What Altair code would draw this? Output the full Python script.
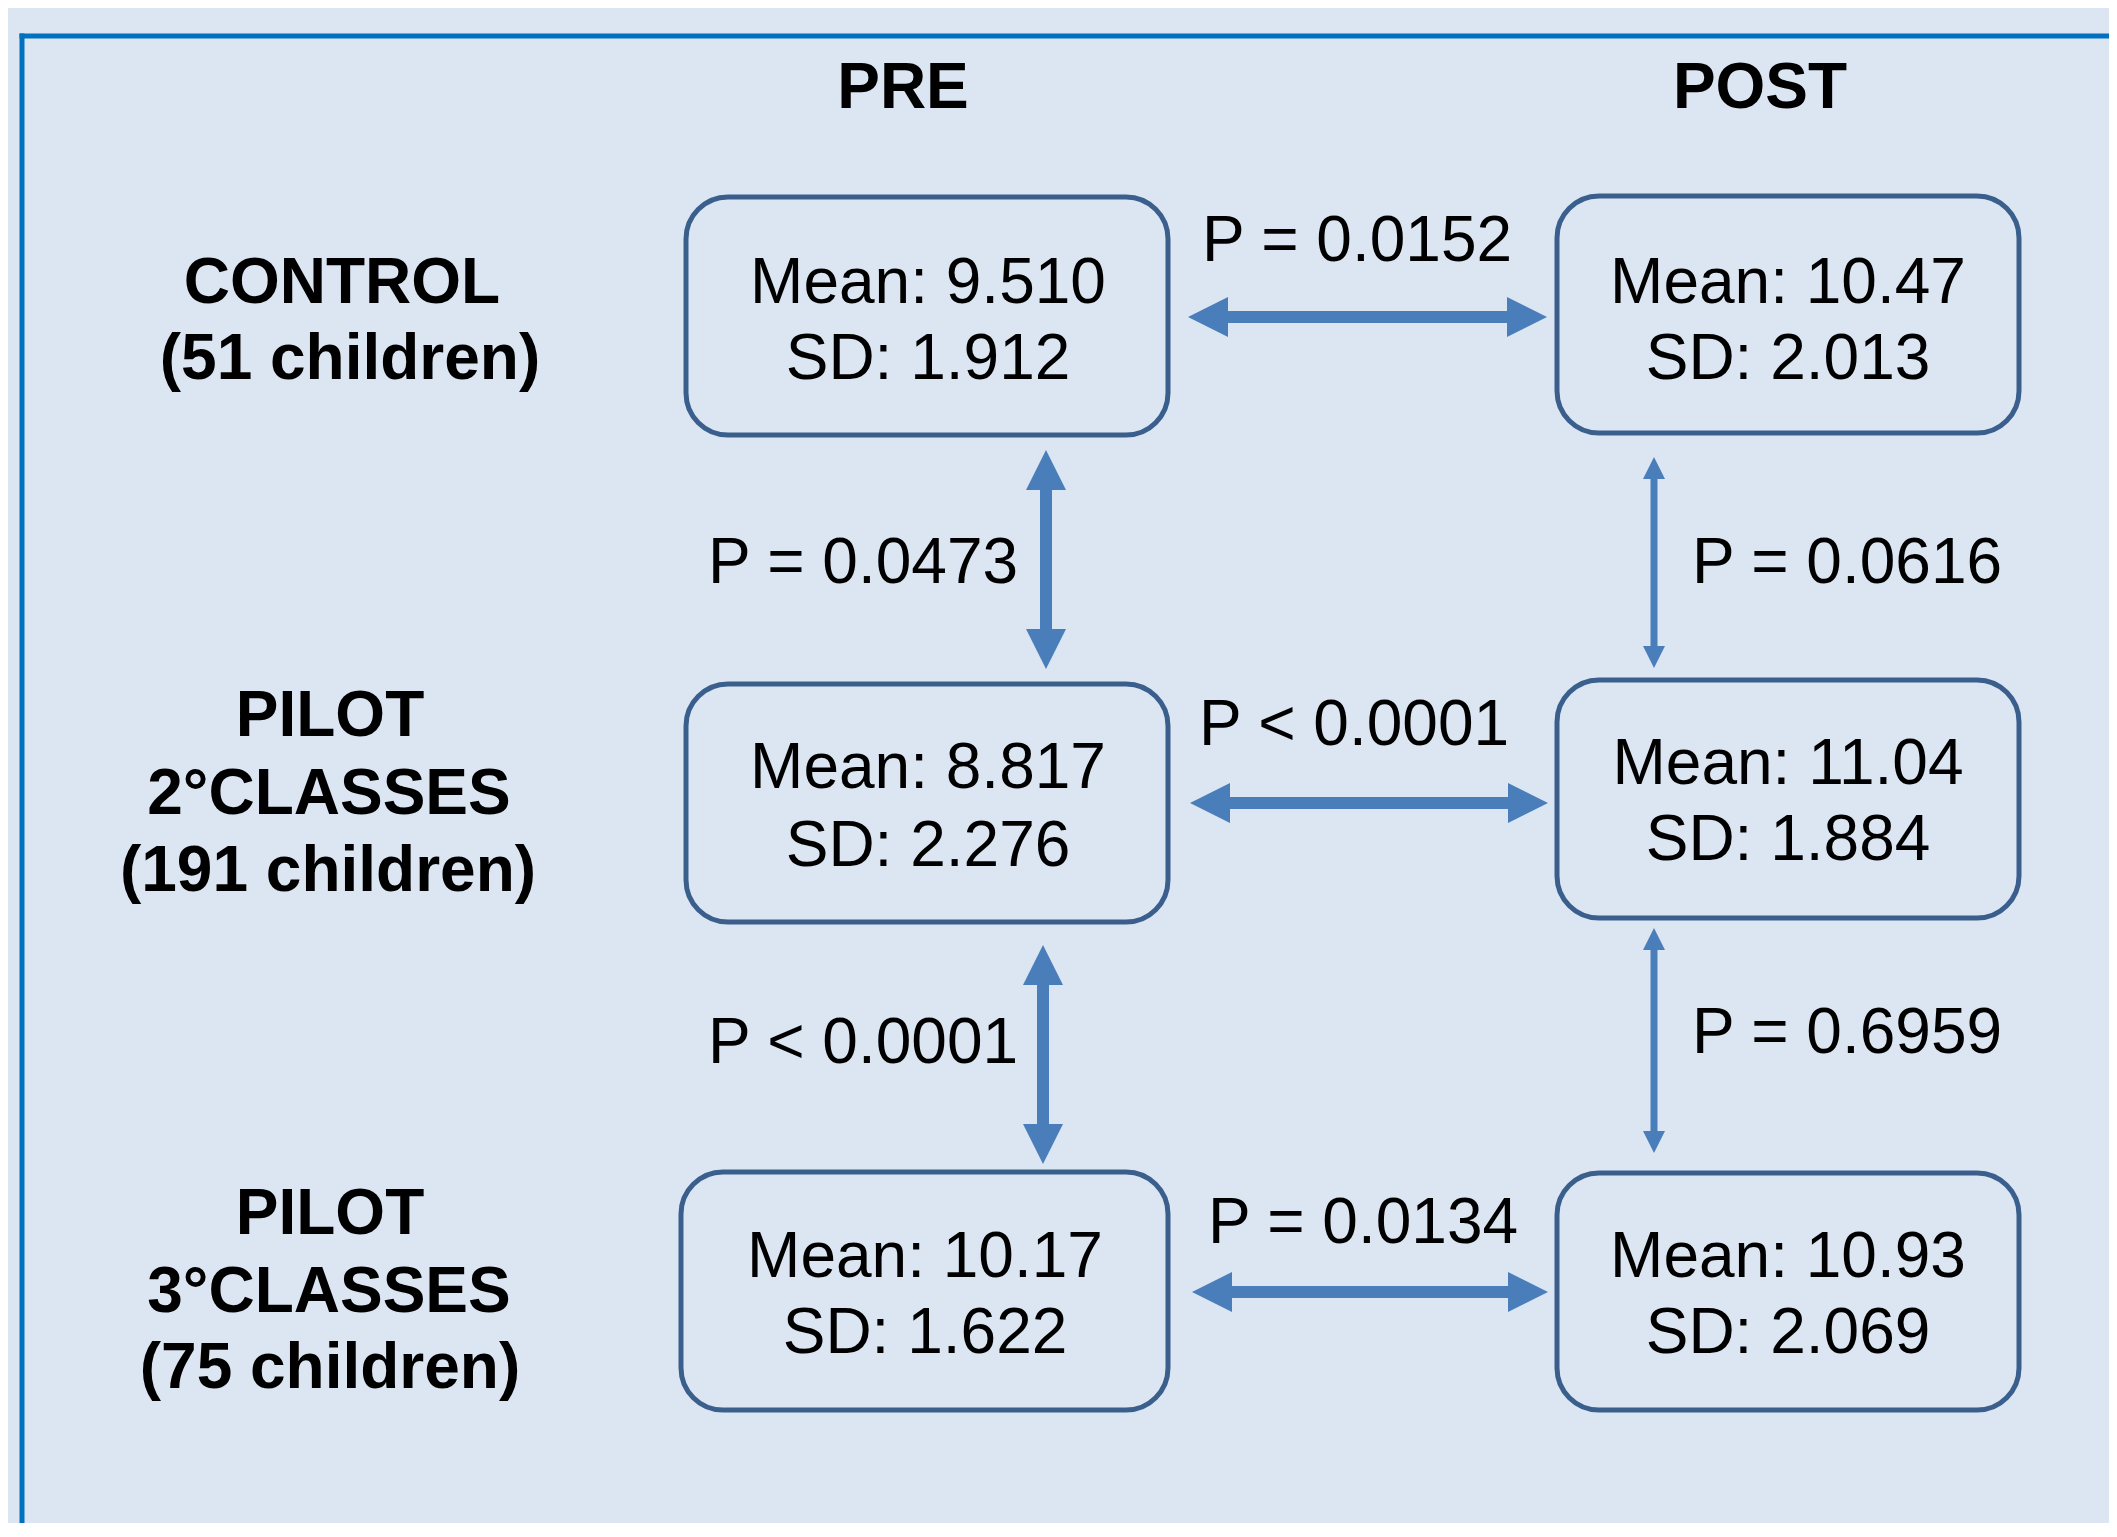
import altair as alt
import pandas as pd

# ---------------- data ----------------
columns = ["PRE", "POST"]
row_labels = [["CONTROL", "(51 children)"],
              ["PILOT", "2°CLASSES", "(191 children)"],
              ["PILOT", "3°CLASSES", "(75 children)"]]
pre_mean = ["9.510", "8.817", "10.17"]
pre_sd = ["1.912", "2.276", "1.622"]
post_mean = ["10.47", "11.04", "10.93"]
post_sd = ["2.013", "1.884", "2.069"]
p_pre_post = ["P = 0.0152", "P < 0.0001", "P = 0.0134"]
p_pre_rows = ["P = 0.0473", "P < 0.0001"]
p_post_rows = ["P = 0.0616", "P = 0.6959"]

# ---------------- layout (pixel frame of the page) ----------------
W, H = 2101, 1515
OFF = 8
xs = alt.Scale(domain=[OFF, OFF + W], nice=False, zero=False)
ys = alt.Scale(domain=[OFF, OFF + H], nice=False, zero=False, reverse=True)

BG = "#dce6f2"
FRAME = "#0070c0"
BOX = "#3a5f8d"
ARROW = "#4a7ebb"
FONT = "Liberation Sans"
FS = 64

header_x = [903, 1760]
header_base = 108
label_x = [[342, 350], [330, 329, 328], [330, 329, 330]]
label_base = [[303, 379], [736, 814, 891], [1234, 1312, 1388]]

pre_box = [(686, 1168, 197, 435), (686, 1168, 684, 922), (681, 1168, 1172, 1410)]
post_box = [(1557, 2019, 196, 433), (1557, 2019, 680, 918), (1557, 2019, 1173, 1410)]
pre_text_x = [928, 928, 925]
post_text_x = [1788, 1788, 1788]
pre_base = [(303, 379), (788, 866), (1277, 1353)]
post_base = [(303, 379), (784, 860), (1277, 1353)]

hp_x = [1357, 1354, 1363]
hp_base = [261, 745, 1243]
vp_pre_x, vp_pre_base = 863, [583, 1063]
vp_post_x, vp_post_base = 1847, [583, 1053]

h_arrows = [(1188, 1547, 317), (1190, 1548, 803), (1192, 1548, 1292)]
v_thick = [(1046, 450, 669), (1043, 945, 1164)]
v_thin = [(1654, 457, 668), (1654, 928, 1153)]

# ---------------- tables ----------------
bold_rows, norm_rows = [], []
for t, x in zip(columns, header_x):
    bold_rows.append(dict(x=x, y=header_base, text=t))
for lines, lx, lb in zip(row_labels, label_x, label_base):
    for t, x, y in zip(lines, lx, lb):
        bold_rows.append(dict(x=x, y=y, text=t))

for i in range(3):
    norm_rows.append(dict(x=pre_text_x[i], y=pre_base[i][0], text="Mean: " + pre_mean[i]))
    norm_rows.append(dict(x=pre_text_x[i], y=pre_base[i][1], text="SD: " + pre_sd[i]))
    norm_rows.append(dict(x=post_text_x[i], y=post_base[i][0], text="Mean: " + post_mean[i]))
    norm_rows.append(dict(x=post_text_x[i], y=post_base[i][1], text="SD: " + post_sd[i]))
    norm_rows.append(dict(x=hp_x[i], y=hp_base[i], text=p_pre_post[i]))
for i in range(2):
    norm_rows.append(dict(x=vp_pre_x, y=vp_pre_base[i], text=p_pre_rows[i]))
    norm_rows.append(dict(x=vp_post_x, y=vp_post_base[i], text=p_post_rows[i]))

boxes = pd.DataFrame([dict(x=a, x2=b, y=c, y2=d) for a, b, c, d in pre_box + post_box])

shafts, heads = [], []
for x1, x2, y in h_arrows:
    h = 20
    shafts.append(dict(x=x1 + h, x2=x2 - h, y=y, y2=y, sw=12))
    heads.append(dict(x=x1 + h, y=y, dir="left", size=(2 * h) ** 2))
    heads.append(dict(x=x2 - h, y=y, dir="right", size=(2 * h) ** 2))
for lst, h, sw in ((v_thick, 20, 12), (v_thin, 11, 7)):
    for x, y1, y2 in lst:
        shafts.append(dict(x=x, x2=x, y=y1 + h, y2=y2 - h, sw=sw))
        heads.append(dict(x=x, y=y1 + h, dir="up", size=(2 * h) ** 2))
        heads.append(dict(x=x, y=y2 - h, dir="down", size=(2 * h) ** 2))
shafts = pd.DataFrame(shafts)
heads = pd.DataFrame(heads)

frame = pd.DataFrame([dict(x=22, x2=OFF + W, y=36, y2=36),
                      dict(x=22, x2=22, y=36, y2=OFF + H)])

X = lambda f="x": alt.X(f + ":Q", scale=xs, axis=None)
Y = lambda f="y": alt.Y(f + ":Q", scale=ys, axis=None)

frame_layer = alt.Chart(frame).mark_rule(color=FRAME, strokeWidth=5, strokeCap="square").encode(
    x=X(), x2="x2:Q", y=Y(), y2="y2:Q")

box_layer = alt.Chart(boxes).mark_rect(
    cornerRadius=42, fillOpacity=0, stroke=BOX, strokeWidth=5).encode(
    x=X(), x2="x2:Q", y=Y(), y2="y2:Q")

shaft_layer = alt.Chart(shafts).mark_rule(color=ARROW).encode(
    x=X(), x2="x2:Q", y=Y(), y2="y2:Q",
    strokeWidth=alt.StrokeWidth("sw:Q", scale=None, legend=None))

head_layer = alt.Chart(heads).mark_point(filled=True, opacity=1, color=ARROW, strokeWidth=0).encode(
    x=X(), y=Y(),
    shape=alt.Shape("dir:N", legend=None, scale=alt.Scale(
        domain=["left", "right", "up", "down"],
        range=["M1,-1L-1,0L1,1Z", "M-1,-1L1,0L-1,1Z", "M-1,1L0,-1L1,1Z", "M-1,-1L0,1L1,-1Z"])),
    size=alt.Size("size:Q", scale=None, legend=None))

bold_layer = alt.Chart(pd.DataFrame(bold_rows)).mark_text(
    font=FONT, fontSize=FS, fontWeight="bold", color="black",
    align="center", baseline="alphabetic").encode(x=X(), y=Y(), text="text:N")

norm_layer = alt.Chart(pd.DataFrame(norm_rows)).mark_text(
    font=FONT, fontSize=FS, color="black",
    align="center", baseline="alphabetic").encode(x=X(), y=Y(), text="text:N")

chart = alt.layer(frame_layer, box_layer, shaft_layer, head_layer, bold_layer, norm_layer).properties(
    width=W, height=H, background=BG, padding=0,
    autosize=alt.AutoSizeParams(type="none")
).configure_view(stroke=None)

chart.save("out.html", embed_options={"renderer": "svg", "actions": False})
